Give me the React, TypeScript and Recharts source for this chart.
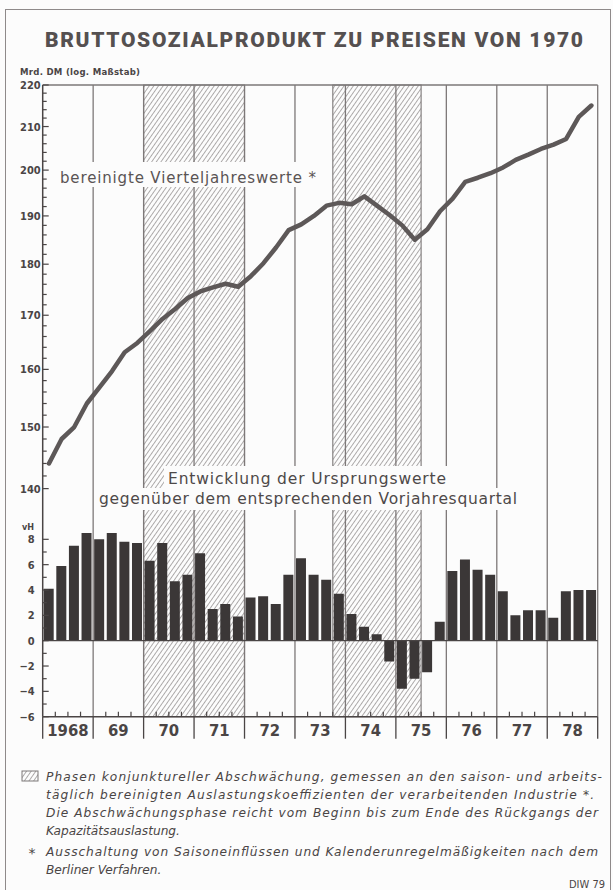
import React from 'react';
import { ComposedChart, Line, Bar, XAxis, YAxis, ReferenceArea, ReferenceLine } from 'recharts';

// quarters 1968 I .. 1978 IV
const quarters = [
  '1968 I', '1968 II', '1968 III', '1968 IV',
  '1969 I', '1969 II', '1969 III', '1969 IV',
  '1970 I', '1970 II', '1970 III', '1970 IV',
  '1971 I', '1971 II', '1971 III', '1971 IV',
  '1972 I', '1972 II', '1972 III', '1972 IV',
  '1973 I', '1973 II', '1973 III', '1973 IV',
  '1974 I', '1974 II', '1974 III', '1974 IV',
  '1975 I', '1975 II', '1975 III', '1975 IV',
  '1976 I', '1976 II', '1976 III', '1976 IV',
  '1977 I', '1977 II', '1977 III', '1977 IV',
  '1978 I', '1978 II', '1978 III', '1978 IV',
];

const yearLabels = ['1968', '69', '70', '71', '72', '73', '74', '75', '76', '77', '78'];

// Mrd. DM, bereinigte Vierteljahreswerte
const gnp = [
  144.0, 148.0, 150.0, 154.0,
  156.8, 159.7, 163.1, 164.8,
  167.0, 169.3, 171.2, 173.3,
  174.6, 175.4, 176.1, 175.5,
  177.6, 180.2, 183.4, 187.0,
  188.2, 190.0, 192.2, 192.8,
  192.5, 194.2, 192.2, 190.2,
  188.0, 185.0, 187.2, 191.0,
  193.7, 197.4, 198.3, 199.3,
  200.6, 202.3, 203.5, 204.8,
  205.8, 207.1, 212.3, 215.0,
];

// vH gegenüber Vorjahresquartal
const change = [
  4.1, 5.9, 7.5, 8.5,
  8.0, 8.5, 7.8, 7.7,
  6.3, 7.7, 4.7, 5.2,
  6.9, 2.5, 2.9, 1.9,
  3.4, 3.5, 2.9, 5.2,
  6.5, 5.2, 4.8, 3.7,
  2.1, 1.1, 0.5, -1.65,
  -3.8, -3.0, -2.5, 1.5,
  5.5, 6.4, 5.6, 5.2,
  3.9, 2.0, 2.4, 2.4,
  1.8, 3.9, 4.0, 4.0,
];

const phases = [
  ['1970 I', '1971 IV'],
  ['1973 IV', '1975 II'],
];

const logTicks = [
  140, 142, 144, 146, 148, 150, 152, 154, 156, 158, 160, 162, 164, 166, 168, 170,
  172, 174, 176, 178, 180, 182, 184, 186, 188, 190, 192, 194, 196, 198, 200,
  202, 204, 206, 208, 210, 212, 214, 216, 218, 220,
];
const pctTicks = [-6, -5, -4, -3, -2, -1, 0, 1, 2, 3, 4, 5, 6, 7, 8];

const data = quarters.map((q, i) => ({ q, gnp: gnp[i], pct: change[i] }));

const W = 613;
const H = 760;
const L = 42.7;
const R = 597.7;
const T = 85;
const B = 716.7;
const LOG_MIN = 220 * Math.exp(-(B - T) / 893);
const PCT_MAX = -6 + (B - T) / 12.67;
const band = (R - L) / quarters.length;

const INK = '#4a4545';
const GRID = '#7d7878';
const AXFONT = "'DejaVu Sans Condensed', 'Liberation Sans Narrow', 'DejaVu Sans', sans-serif";
const TXT = "'DejaVu Sans', sans-serif";

const LogTick = ({ x, y, payload }: any) => {
  const v = payload.value;
  const major = v % 10 === 0;
  return (
    <g>
      <line x1={x} x2={x + (major ? 6 : 4)} y1={y} y2={y} stroke={INK} strokeWidth={1.2} />
      {major && (
        <text x={x - 2} y={y + 4} textAnchor="end" fontFamily={AXFONT} fontWeight="bold" fontSize={11} fill={INK}>
          {v}
        </text>
      )}
    </g>
  );
};

const PctTick = ({ x, y, payload }: any) => {
  const v = payload.value;
  const major = v % 2 === 0;
  return (
    <g>
      <line x1={x} x2={x + (major ? 6 : 4)} y1={y} y2={y} stroke={INK} strokeWidth={1.2} />
      {major && (
        <text x={x - 8} y={y + 4} textAnchor="end" fontFamily={AXFONT} fontWeight="bold" fontSize={11} fill={INK}>
          {v < 0 ? '\u2212' + Math.abs(v) : v}
        </text>
      )}
    </g>
  );
};

const QuarterTick = ({ x, y, index }: any) => {
  const b = x - band / 2;
  return (
    <g>
      {index % 4 === 0 ? (
        <line x1={b} x2={b} y1={y} y2={y + 22} stroke={INK} strokeWidth={1.3} />
      ) : (
        <line x1={b} x2={b} y1={y} y2={y - 5} stroke={INK} strokeWidth={1.2} />
      )}
      {index % 4 === 1 && (
        <text x={x + band / 2} y={y + 19} textAnchor="middle" fontFamily={AXFONT} fontWeight="bold" fontSize={16.5} fill={INK}>
          {yearLabels[Math.floor(index / 4)]}
        </text>
      )}
      {index === quarters.length - 1 && (
        <line x1={x + band / 2} x2={x + band / 2} y1={y} y2={y + 22} stroke={INK} strokeWidth={1.3} />
      )}
    </g>
  );
};

const footLines = [
  { x: 46, y: 781, w: 556, t: 'Phasen konjunktureller Abschwächung, gemessen an den saison- und arbeits-' },
  { x: 46, y: 799, w: 548, t: 'täglich bereinigten Auslastungskoeffizienten der verarbeitenden Industrie *.' },
  { x: 46, y: 817, w: 552, t: 'Die Abschwächungsphase reicht vom Beginn bis zum Ende des Rückgangs der' },
  { x: 46, y: 835, w: 0, t: 'Kapazitätsauslastung.' },
  { x: 46, y: 856, w: 552, t: 'Ausschaltung von Saisoneinflüssen und Kalenderunregelmäßigkeiten nach dem' },
  { x: 46, y: 874, w: 0, t: 'Berliner Verfahren.' },
];

export default function App() {
  return (
    <div style={{ position: 'relative', width: W, height: 890, background: '#fcfcfc', overflow: 'hidden' }}>
      <style>{'body{margin:0}'}</style>
      <svg width={0} height={0} style={{ position: 'absolute' }}>
        <defs>
          <pattern id="hatch" width={3.8} height={3.8} patternUnits="userSpaceOnUse" patternTransform="rotate(35)">
            <line x1={0} y1={0} x2={0} y2={3.8} stroke="#6f6a6a" strokeWidth={1.1} />
          </pattern>
        </defs>
      </svg>

      {/* outer frame */}
      <div
        style={{
          position: 'absolute', left: 5, top: 9, width: 604, height: 900,
          borderLeft: '1.5px solid #8f8a8a', borderTop: '1.5px solid #8f8a8a', borderRight: '1.5px solid #8f8a8a',
        }}
      />

      {/* upper: log line, phases, year grid */}
      <div style={{ position: 'absolute', left: 0, top: 0 }}>
        <ComposedChart width={W} height={H} data={data} margin={{ top: T, right: W - R, left: L - 40, bottom: H - B }}>
          <XAxis dataKey="q" scale="band" hide />
          <YAxis
            yAxisId="g" type="number" scale="log" domain={[LOG_MIN, 220]} allowDataOverflow
            ticks={logTicks} interval={0} width={40} tickSize={0} tickMargin={0} tickLine={false}
            axisLine={{ stroke: INK, strokeWidth: 1.5 }} tick={(p: any) => <LogTick {...p} />}
          />
          {phases.map(([a, b]) => (
            <ReferenceArea key={a} yAxisId="g" x1={a} x2={b} fill="url(#hatch)" fillOpacity={1} stroke={GRID} strokeWidth={1.1} />
          ))}
          {quarters.filter((_, i) => i > 0 && i % 4 === 0).map((q) => (
            <ReferenceLine key={q} yAxisId="g" x={q} position="start" stroke={GRID} strokeWidth={1.3} />
          ))}
          <ReferenceLine yAxisId="g" x={quarters[quarters.length - 1]} position="end" stroke={GRID} strokeWidth={1.3} />
          <ReferenceLine yAxisId="g" y={220} stroke={GRID} strokeWidth={1.3} />
          <Line
            yAxisId="g" dataKey="gnp" type="linear" stroke="#5d5858" strokeWidth={4.5}
            strokeLinejoin="round" strokeLinecap="round" dot={false} isAnimationActive={false}
          />
        </ComposedChart>
      </div>

      {/* texts */}
      <svg width={W} height={890} style={{ position: 'absolute', left: 0, top: 0 }}>
        <text x={45} y={47} textLength={538} lengthAdjust="spacing" fontFamily="Roboto, sans-serif" fontWeight="900" fontSize={21} fill="#555050">
          BRUTTOSOZIALPRODUKT ZU PREISEN VON 1970
        </text>
        <text x={20} y={75} textLength={120} lengthAdjust="spacing" fontFamily={AXFONT} fontWeight="bold" fontSize={9.5} fill={INK}>
          Mrd. DM (log. Maßstab)
        </text>
        <text x={34} y={530} textAnchor="end" fontFamily={AXFONT} fontWeight="bold" fontSize={9} fill={INK}>vH</text>

        <rect x={55} y={162} width={268} height={25} fill="#fcfcfc" />
        <text x={60} y={183} textLength={256} lengthAdjust="spacing" fontFamily={TXT} fontSize={15} fill="#5a5454">
          bereinigte Vierteljahreswerte *
        </text>
        <rect x={164} y={466} width={286} height={22} fill="#fcfcfc" />
        <rect x={96} y={488} width={424} height={22} fill="#fcfcfc" />
        <text x={168} y={484} textLength={278} lengthAdjust="spacing" fontFamily={TXT} fontSize={15.5} fill="#4e4949">
          Entwicklung der Ursprungswerte
        </text>
        <text x={99} y={504} textLength={418} lengthAdjust="spacing" fontFamily={TXT} fontSize={15.5} fill="#4e4949">
          gegenüber dem entsprechenden Vorjahresquartal
        </text>

        <rect x={22} y={771} width={16} height={10} fill="url(#hatch)" stroke={GRID} strokeWidth={1} />
        <text x={32} y={858} textAnchor="middle" fontFamily={TXT} fontSize={14} fill={INK}>*</text>
        {footLines.map((f) => (
          <text
            key={f.t} x={f.x} y={f.y} fontFamily={TXT} fontStyle="italic" fontSize={12.2} fill={INK}
            {...(f.w ? { textLength: f.w, lengthAdjust: 'spacing' } : {})}
          >
            {f.t}
          </text>
        ))}
        <text x={605} y={888} textAnchor="end" fontFamily={AXFONT} fontSize={11} fill={INK}>DIW 79</text>
      </svg>

      {/* lower: bars */}
      <div style={{ position: 'absolute', left: 0, top: 0 }}>
        <ComposedChart width={W} height={H} data={data} margin={{ top: T, right: W - R, left: L - 40, bottom: H - B - 30 }}>
          <XAxis
            dataKey="q" height={30} interval={0} tickSize={0} tickMargin={0} tickLine={false}
            axisLine={{ stroke: INK, strokeWidth: 1.5 }} tick={(p: any) => <QuarterTick {...p} />}
          />
          <YAxis
            yAxisId="p" type="number" domain={[-6, PCT_MAX]} allowDataOverflow ticks={pctTicks} interval={0}
            width={40} tickSize={0} tickMargin={0} tickLine={false} axisLine={false} tick={(p: any) => <PctTick {...p} />}
          />
          <ReferenceLine yAxisId="p" y={0} stroke={INK} strokeWidth={1.3} />
          <Bar yAxisId="p" dataKey="pct" fill="#3b3737" barSize={10} isAnimationActive={false} />
        </ComposedChart>
      </div>
    </div>
  );
}
